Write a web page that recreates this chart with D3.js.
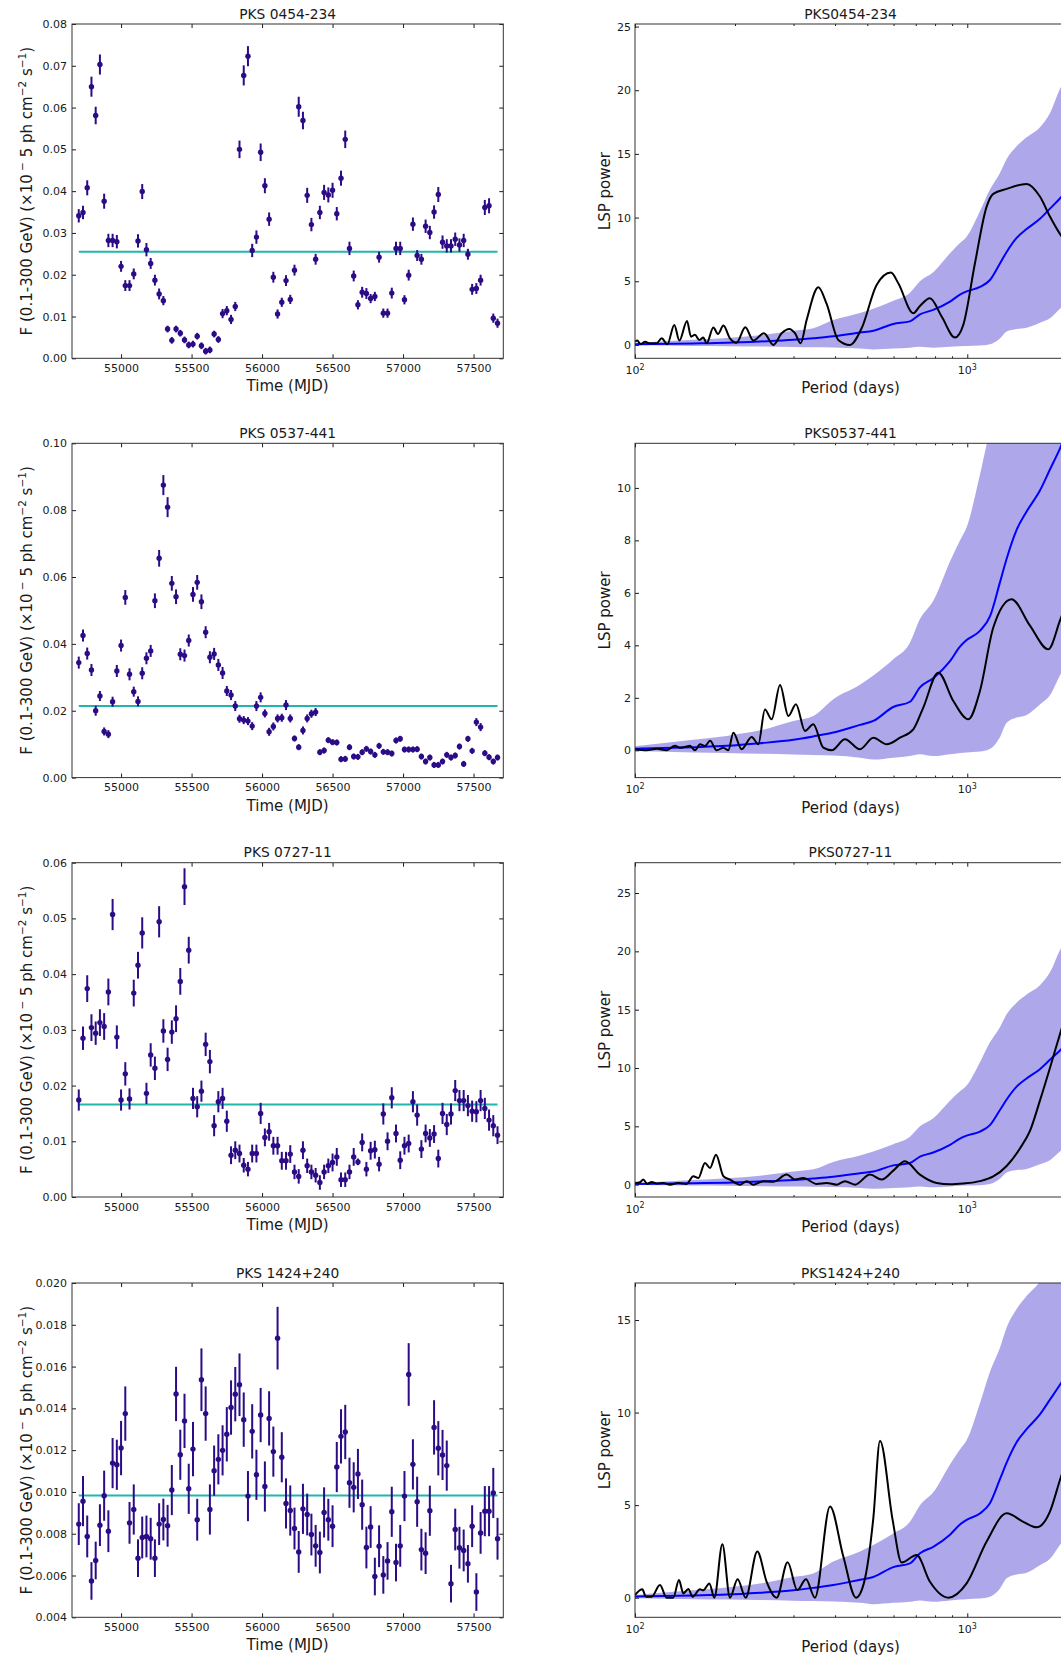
<!DOCTYPE html>
<html><head><meta charset="utf-8">
<script src="https://cdn.jsdelivr.net/npm/d3@7"></script>
<style>body{margin:0;background:#fff}svg text{font-family:"DejaVu Sans",sans-serif}</style>
</head><body><svg id="c" width="1061" height="1659"></svg>
<script>
// ---------------- DATA ----------------
const sourceNames = ["PKS 0454-234", "PKS 0537-441", "PKS 0727-11", "PKS 1424+240"];
const lspNames = ["PKS0454-234", "PKS0537-441", "PKS0727-11", "PKS1424+240"];

const mjd = [54700,54730,54760,54790,54820,54850,54880,54910,54940,54970,
55000,55030,55060,55090,55120,55150,55180,55210,55240,55270,
55300,55330,55360,55390,55420,55450,55480,55510,55540,55570,
55600,55630,55660,55690,55720,55750,55780,55810,55840,55870,
55900,55930,55960,55990,56020,56050,56080,56110,56140,56170,
56200,56230,56260,56290,56320,56350,56380,56410,56440,56470,
56500,56530,56560,56590,56620,56650,56680,56710,56740,56770,
56800,56830,56860,56890,56920,56950,56980,57010,57040,57070,
57100,57130,57160,57190,57220,57250,57280,57310,57340,57370,
57400,57430,57460,57490,57520,57550,57580,57610,57640,57670];

const flux1 = [0.0341,0.0349,0.0408,0.0650,0.0581,0.0703,0.0376,0.0282,0.0282,0.0279,
0.0220,0.0174,0.0174,0.0202,0.0281,0.0399,0.0260,0.0227,0.0187,0.0154,
0.0138,0.0070,0.0043,0.0070,0.0060,0.0044,0.0032,0.0034,0.0053,0.0030,
0.0017,0.0020,0.0058,0.0045,0.0107,0.0114,0.0093,0.0124,0.0500,0.0677,
0.0723,0.0258,0.0290,0.0493,0.0413,0.0333,0.0194,0.0106,0.0134,0.0186,
0.0141,0.0211,0.0602,0.0569,0.0390,0.0320,0.0237,0.0349,0.0397,0.0391,
0.0402,0.0346,0.0431,0.0524,0.0263,0.0197,0.0128,0.0158,0.0155,0.0143,
0.0148,0.0242,0.0108,0.0108,0.0156,0.0263,0.0263,0.0140,0.0199,0.0321,
0.0246,0.0237,0.0316,0.0301,0.0350,0.0392,0.0278,0.0269,0.0269,0.0285,
0.0271,0.0282,0.0249,0.0165,0.0167,0.0187,0.0361,0.0365,0.0096,0.0084];
const err1 = [.0016,.0016,.0018,.0024,.0021,.0024,.0018,.0016,.0016,.0016,
.0013,.0013,.0013,.0013,.0016,.0018,.0016,.0013,.0013,.0013,
.0011,.0008,.0008,.0008,.0008,.0008,.0008,.0008,.0008,.0008,
.0008,.0008,.0008,.0008,.0011,.0011,.0011,.0011,.0021,.0024,
.0024,.0016,.0016,.0021,.0018,.0016,.0013,.0011,.0011,.0013,
.0011,.0013,.0024,.0021,.0018,.0016,.0013,.0016,.0018,.0018,
.0018,.0016,.0018,.0021,.0016,.0013,.0011,.0013,.0013,.0011,
.0011,.0013,.0011,.0011,.0013,.0016,.0016,.0011,.0013,.0016,
.0013,.0013,.0016,.0016,.0016,.0018,.0016,.0016,.0016,.0016,
.0016,.0016,.0013,.0013,.0013,.0013,.0018,.0018,.0011,.0011];

const flux2 = [0.0344,0.0425,0.0371,0.0322,0.0200,0.0244,0.0138,0.0130,0.0227,0.0319,
0.0395,0.0539,0.0309,0.0257,0.0228,0.0312,0.0357,0.0379,0.0529,0.0656,
0.0875,0.0809,0.0581,0.0541,0.0369,0.0365,0.0410,0.0548,0.0584,0.0526,
0.0435,0.0360,0.0370,0.0337,0.0313,0.0259,0.0247,0.0214,0.0176,0.0172,
0.0169,0.0154,0.0214,0.0240,0.0192,0.0137,0.0153,0.0177,0.0179,0.0217,
0.0177,0.0117,0.0091,0.0141,0.0177,0.0191,0.0196,0.0076,0.0081,0.0112,
0.0106,0.0105,0.0055,0.0056,0.0091,0.0063,0.0062,0.0076,0.0086,0.0078,
0.0068,0.0095,0.0077,0.0076,0.0072,0.0111,0.0116,0.0084,0.0084,0.0084,
0.0085,0.0063,0.0048,0.0060,0.0038,0.0038,0.0048,0.0068,0.0060,0.0066,
0.0093,0.0041,0.0116,0.0080,0.0166,0.0151,0.0073,0.0061,0.0048,0.0060];
const err2 = [.0018,.0018,.0018,.0018,.0015,.0015,.0012,.0012,.0015,.0018,
.0018,.0022,.0018,.0015,.0015,.0018,.0018,.0018,.0022,.0025,
.0030,.0030,.0022,.0022,.0018,.0018,.0018,.0022,.0022,.0022,
.0018,.0018,.0018,.0018,.0018,.0015,.0015,.0015,.0012,.0012,
.0012,.0012,.0015,.0015,.0012,.0012,.0012,.0012,.0012,.0015,
.0012,.0009,.0009,.0012,.0012,.0012,.0012,.0009,.0009,.0009,
.0009,.0009,.0009,.0009,.0009,.0009,.0009,.0009,.0009,.0009,
.0009,.0009,.0009,.0009,.0009,.0009,.0009,.0009,.0009,.0009,
.0009,.0009,.0009,.0009,.0009,.0009,.0009,.0009,.0009,.0009,
.0009,.0009,.0009,.0009,.0012,.0012,.0009,.0009,.0009,.0009];

const flux3 = [0.0174,0.0285,0.0374,0.0304,0.0294,0.0313,0.0306,0.0368,0.0507,0.0287,
0.0174,0.0221,0.0176,0.0366,0.0416,0.0474,0.0186,0.0255,0.0231,0.0494,
0.0298,0.0247,0.0296,0.0320,0.0387,0.0557,0.0443,0.0177,0.0162,0.0190,
0.0274,0.0243,0.0128,0.0171,0.0177,0.0136,0.0075,0.0084,0.0078,0.0057,
0.0050,0.0078,0.0078,0.0150,0.0107,0.0117,0.0092,0.0092,0.0065,0.0065,
0.0077,0.0045,0.0037,0.0084,0.0056,0.0045,0.0039,0.0026,0.0045,0.0056,
0.0062,0.0072,0.0031,0.0031,0.0045,0.0072,0.0063,0.0098,0.0050,0.0083,
0.0085,0.0059,0.0149,0.0100,0.0178,0.0114,0.0066,0.0092,0.0096,0.0171,
0.0147,0.0086,0.0114,0.0106,0.0113,0.0069,0.0150,0.0130,0.0149,0.0191,
0.0173,0.0173,0.0164,0.0154,0.0153,0.0173,0.0159,0.0138,0.0128,0.0111];
const err3 = [.0019,.0021,.0024,.0024,.0021,.0024,.0024,.0024,.0028,.0021,
.0019,.0021,.0019,.0024,.0024,.0028,.0019,.0021,.0021,.0028,
.0021,.0021,.0021,.0024,.0024,.0033,.0024,.0019,.0019,.0019,
.0021,.0021,.0019,.0019,.0019,.0019,.0016,.0016,.0016,.0013,
.0013,.0016,.0016,.0019,.0016,.0016,.0016,.0016,.0016,.0016,
.0016,.0013,.0013,.0016,.0013,.0013,.0013,.0013,.0013,.0013,
.0016,.0016,.0013,.0013,.0013,.0016,.0006,.0016,.0013,.0016,
.0016,.0013,.0019,.0016,.0019,.0016,.0016,.0016,.0016,.0019,
.0019,.0016,.0016,.0016,.0016,.0016,.0019,.0019,.0019,.0019,
.0019,.0019,.0019,.0019,.0019,.0019,.0019,.0019,.0019,.0016];

const flux4 = [0.00846,0.00956,0.00787,0.00574,0.00672,0.00841,0.00982,0.00812,0.01138,0.01130,
0.01210,0.01375,0.00852,0.00916,0.00683,0.00782,0.00787,0.00776,0.00683,0.00846,
0.00868,0.00838,0.01009,0.01469,0.01178,0.01340,0.01015,0.01205,0.00867,0.01537,
0.01375,0.00916,0.01102,0.01156,0.01199,0.01276,0.01404,0.01468,0.01513,0.01346,
0.00980,0.01290,0.01082,0.01368,0.01026,0.01352,0.01193,0.01736,0.01166,0.00945,
0.00911,0.00825,0.00713,0.00919,0.00892,0.00796,0.00742,0.00710,0.00902,0.00867,
0.00836,0.01119,0.01266,0.01287,0.01044,0.01022,0.01086,0.00939,0.00734,0.00832,
0.00595,0.00740,0.00603,0.00670,0.00905,0.00662,0.00742,0.00980,0.01562,0.01132,
0.00953,0.00724,0.00707,0.00910,0.01309,0.01209,0.01177,0.01126,0.00561,0.00820,
0.00733,0.00720,0.00656,0.00836,0.00521,0.00804,0.00908,0.00908,0.00995,0.00776];
const err4 = [.0010,.0012,.0010,.0009,.0009,.0010,.0012,.0010,.0012,.0012,
.0013,.0013,.0010,.0012,.0009,.0010,.0010,.0010,.0009,.0010,
.0010,.0010,.0012,.0013,.0012,.0013,.0012,.0013,.0010,.0015,
.0013,.0012,.0012,.0012,.0012,.0013,.0013,.0013,.0015,.0013,
.0012,.0013,.0012,.0013,.0012,.0013,.0012,.0015,.0012,.0012,
.0012,.0010,.0010,.0012,.0010,.0010,.0010,.0010,.0012,.0010,
.0010,.0012,.0013,.0013,.0012,.0012,.0012,.0012,.0010,.0010,
.0009,.0010,.0009,.0009,.0012,.0009,.0010,.0012,.0015,.0012,
.0012,.0010,.0010,.0012,.0013,.0013,.0012,.0012,.0009,.0010,
.0010,.0010,.0009,.0010,.0009,.0010,.0012,.0012,.0012,.0010];

const meanFlux = [0.0255, 0.0214, 0.0166, 0.00983];
const timeDomain = [54652, 57711];
const timeTicks = [55000, 55500, 56000, 56500, 57000, 57500];
const fluxDomains = [[0, 0.08], [0, 0.10], [0, 0.06], [0.004, 0.020]];
const fluxTicks = [
  [0, 0.01, 0.02, 0.03, 0.04, 0.05, 0.06, 0.07, 0.08],
  [0, 0.02, 0.04, 0.06, 0.08, 0.10],
  [0, 0.01, 0.02, 0.03, 0.04, 0.05, 0.06],
  [0.004, 0.006, 0.008, 0.010, 0.012, 0.014, 0.016, 0.018, 0.020]];
const fluxTickFormats = [".2f", ".2f", ".2f", ".3f"];

// simulated-noise band (same for all sources)
const bandPeriod = [100,149.8,188.7,237.8,299.6,344.0,395.2,475.3,521.5,598.8,672.1,720.4,790.0,887.1,950.5,995.4,1091.6,1170.1,1254,1313.6,1407.6,1508.5,1654.4,1773.2,1900.3,2037];
const bandMean = [0.06,0.12,0.17,0.27,0.40,0.53,0.68,0.97,1.12,1.65,1.85,2.40,2.75,3.40,3.95,4.20,4.55,5.10,6.40,7.30,8.40,9.10,9.90,10.70,11.50,12.40];
const bandLow = [-0.03,-0.08,-0.10,-0.13,-0.16,-0.18,-0.20,-0.28,-0.35,-0.28,-0.22,-0.15,-0.22,-0.15,-0.10,-0.08,-0.05,0.05,0.50,1.05,1.25,1.35,1.75,2.10,2.85,3.50];
const bandHigh = [0.15,0.40,0.55,0.76,1.12,1.31,1.95,2.50,2.85,3.47,4.10,5.00,5.70,7.20,8.00,8.50,10.50,12.20,13.50,14.60,15.60,16.30,17.10,18.20,20.10,21.50];

const lspPeriod1 = [100,101.6,104.0,107.2,110.9,116.2,120.3,125.1,131.3,136.0,143.4,147.4,151.5,156.2,160.6,164.3,172.1,177.7,184.5,193.1,202.2,214.8,227.0,244.4,260.8,276.3,291.4,303.0,315.1,328.5,356.2,377.4,409.1,443.6,480.8,533.5,589.2,620.0,687.9,720.4,772.2,837.3,918.3,972.7,1054.6,1143.5,1197.4,1313.6,1508.5,1654.4,1773.2,1900.3,1990.6];
const lspPower1 = [0.26,0.34,0.05,0.24,0.13,0.13,0.52,0.05,1.57,0.34,1.88,0.65,0.79,0.39,0.58,0.13,1.36,0.86,1.52,0.52,0.18,1.39,0.34,0.92,0.0,0.92,1.26,0.92,0.13,1.96,4.53,3.22,0.39,0.0,1.31,4.71,5.68,4.84,2.49,3.06,3.66,2.23,0.58,1.57,6.41,10.86,11.86,12.25,12.64,11.65,10.08,8.72,8.0];

const lspPeriod2 = [100,108.4,116.2,124.5,132.0,136.6,141.4,146.4,151.5,156.9,162.4,168.2,176.1,184.5,190.9,197.7,209.4,224.4,235.0,246.1,257.8,273.2,289.4,305.1,324.7,344.0,368.8,390.8,428.4,475.3,521.5,571.8,627.2,687.9,737.2,817.8,907.9,1007,1091.6,1197.4,1359.5,1543.9,1752.8,1900.3,2037];
const lspPower2 = [0.04,0.0,0.06,0.0,0.17,0.10,0.13,0.17,0.0,0.23,0.16,0.36,0.0,0.10,0.0,0.67,0.04,0.51,0.23,1.56,1.18,2.49,1.31,1.76,0.74,0.99,0.10,0.0,0.42,0.04,0.48,0.23,0.48,0.80,1.63,2.96,1.88,1.18,2.26,4.68,5.76,4.75,3.85,4.94,6.0];

const lspPeriod3 = [100,103.5,105.9,108.9,112.2,116.2,121.7,127.4,135.0,143.0,149.8,155.1,162.4,168.2,175.3,184.5,193.1,207.0,216.8,227.0,243.3,260.8,286.1,303.0,321.0,352.2,377.4,404.4,428.4,459.2,509.6,552.4,598.8,649.3,720.4,808.7,887.1,972.7,1091.6,1197.4,1313.6,1440.4,1543.9,1654.4,1773.2,1900.3,1990.6];
const lspPower3 = [0.14,0.20,0.43,0.06,0.23,0.10,0.14,0.0,0.14,0.06,0.72,0.57,1.86,1.43,2.57,0.72,0.43,0.0,0.29,0.0,0.30,0.25,0.86,0.43,0.57,0.06,0.14,0.0,0.29,0.0,0.86,0.43,1.20,2.00,0.86,0.14,0.03,0.10,0.30,0.70,1.60,3.10,4.60,7.20,10.0,12.9,14.8];

const lspPeriod4 = [100,105.2,107.9,112.2,118.9,124.5,130.4,135.6,139.8,144.7,149.1,156.9,160.6,167.4,173.3,183.2,193.1,203.6,215.3,233.4,249.0,266.9,288.0,307.9,327.0,348.0,386.3,423.6,462.4,488.7,521.5,546.2,596.1,634.5,703.9,772.2,876.7,995.4,1143.5,1313.6,1474,1617,1773.2,1900.3,2037];
const lspPower4 = [0.14,0.45,0.05,0.05,0.68,0.0,0.0,0.95,0.23,0.47,0.05,0.45,0.40,0.77,0.0,2.88,0.0,0.99,0.0,2.49,0.86,0.0,1.91,0.41,0.99,0.0,4.92,2.22,0.0,0.80,4.30,8.48,4.20,1.90,2.30,0.86,0.0,0.77,3.03,4.56,4.10,3.80,4.65,6.36,8.0];

const periodDomain = [100, 1982];
const periodMajor = [100, 1000];
const periodMinor = [200, 300, 400, 500, 600, 700, 800, 900];
const lspDomains = [[-1.05, 25.2], [-1.04, 11.7], [-1.06, 27.6], [-1.06, 17.0]];
const lspTicks = [[0,5,10,15,20,25], [0,2,4,6,8,10], [0,5,10,15,20,25], [0,5,10,15]];

// ---------------- LAYOUT / STYLE ----------------
const fluxes = [flux1, flux2, flux3, flux4];
const errs = [err1, err2, err3, err4];
const lspP = [lspPeriod1, lspPeriod2, lspPeriod3, lspPeriod4];
const lspV = [lspPower1, lspPower2, lspPower3, lspPower4];

const svg = d3.select("#c");
const tops = [24, 443.3, 862.7, 1283];
const PH = 334.3;
const LX = [72, 503.3], RX = [635, 1066];
const INK = "#1a1a1a", SPINE = "#333";
const PT = "#2b0b86", MEANC = "#20b5ad", BANDC = "#aea8ea";

function styleAxis(s) {
  s.attr("font-size", 11).attr("font-family", "DejaVu Sans").attr("color", INK);
  s.select(".domain").remove();
}
function frame(g, x0, x1, y0, y1) {
  g.append("rect").attr("x", x0).attr("y", y0).attr("width", x1 - x0).attr("height", y1 - y0)
    .attr("fill", "none").attr("stroke", SPINE).attr("stroke-width", 1);
}

function lightCurve(i) {
  const top = tops[i], bot = top + PH;
  const g = svg.append("g");
  const x = d3.scaleLinear().domain(timeDomain).range(LX);
  const y = d3.scaleLinear().domain(fluxDomains[i]).range([bot, top]);
  const data = mjd.map((t, j) => ({t, f: fluxes[i][j], e: errs[i][j]}));

  g.append("line").attr("x1", x(mjd[0])).attr("x2", x(mjd[mjd.length - 1]))
    .attr("y1", y(meanFlux[i])).attr("y2", y(meanFlux[i]))
    .attr("stroke", MEANC).attr("stroke-width", 2);
  g.append("g").selectAll("line").data(data).join("line")
    .attr("x1", d => x(d.t)).attr("x2", d => x(d.t))
    .attr("y1", d => y(d.f - d.e)).attr("y2", d => y(d.f + d.e))
    .attr("stroke", PT).attr("stroke-width", 2);
  g.append("g").selectAll("circle").data(data).join("circle")
    .attr("cx", d => x(d.t)).attr("cy", d => y(d.f)).attr("r", 2.7).attr("fill", PT);

  g.append("g").attr("transform", `translate(0,${bot})`)
    .call(d3.axisBottom(x).tickValues(timeTicks).tickSize(-4).tickPadding(6).tickFormat(d3.format("d"))).call(styleAxis);
  g.append("g").attr("transform", `translate(0,${top})`)
    .call(d3.axisTop(x).tickValues(timeTicks).tickSize(-4).tickFormat("")).call(styleAxis);
  g.append("g").attr("transform", `translate(${LX[0]},0)`)
    .call(d3.axisLeft(y).tickValues(fluxTicks[i]).tickSize(-4).tickPadding(5).tickFormat(d3.format(fluxTickFormats[i]))).call(styleAxis);
  g.append("g").attr("transform", `translate(${LX[1]},0)`)
    .call(d3.axisRight(y).tickValues(fluxTicks[i]).tickSize(-4).tickFormat("")).call(styleAxis);
  frame(g, LX[0], LX[1], top, bot);

  g.append("text").attr("x", (LX[0] + LX[1]) / 2).attr("y", top - 5.5).attr("text-anchor", "middle")
    .attr("font-size", 13.8).attr("fill", INK).text(sourceNames[i]);
  g.append("text").attr("x", (LX[0] + LX[1]) / 2).attr("y", bot + 33).attr("text-anchor", "middle")
    .attr("font-size", 15).attr("fill", INK).text("Time (MJD)");
  const cy = (top + bot) / 2;
  const t = g.append("text").attr("transform", `translate(31.5,${cy}) rotate(-90)`)
    .attr("text-anchor", "middle").attr("font-size", 15).attr("fill", INK);
  t.append("tspan").text("F (0.1-300 GeV) (×10");
  t.append("tspan").attr("dy", -6).attr("font-size", 10.5).text(" −");
  t.append("tspan").attr("dy", 6).text(" 5 ph cm");
  t.append("tspan").attr("dy", -6).attr("font-size", 10.5).text("−2");
  t.append("tspan").attr("dy", 6).text(" s");
  t.append("tspan").attr("dy", -6).attr("font-size", 10.5).text("−1");
  t.append("tspan").attr("dy", 6).text(")");
}

function lspPanel(i) {
  const top = tops[i], bot = top + PH;
  const g = svg.append("g");
  const x = d3.scaleLog().domain(periodDomain).range(RX);
  const y = d3.scaleLinear().domain(lspDomains[i]).range([bot, top]);
  const cid = "clip" + i;
  g.append("clipPath").attr("id", cid).append("rect")
    .attr("x", RX[0]).attr("y", top).attr("width", RX[1] - RX[0]).attr("height", PH);
  const pg = g.append("g").attr("clip-path", `url(#${cid})`);

  const band = bandPeriod.map((p, j) => ({p, lo: bandLow[j], hi: bandHigh[j], m: bandMean[j]}));
  pg.append("path").datum(band)
    .attr("d", d3.area().x(d => x(d.p)).y0(d => y(d.lo)).y1(d => y(d.hi)).curve(d3.curveMonotoneX))
    .attr("fill", BANDC).attr("stroke", "none");
  pg.append("path").datum(band)
    .attr("d", d3.line().x(d => x(d.p)).y(d => y(d.m)).curve(d3.curveMonotoneX))
    .attr("fill", "none").attr("stroke", "#0000ff").attr("stroke-width", 2);
  const curve = lspP[i].map((p, j) => ({p, v: lspV[i][j]}));
  pg.append("path").datum(curve)
    .attr("d", d3.line().x(d => x(d.p)).y(d => y(d.v)).curve(d3.curveMonotoneX))
    .attr("fill", "none").attr("stroke", "#000").attr("stroke-width", 2).attr("stroke-linejoin", "round");

  g.append("g").attr("transform", `translate(0,${bot})`)
    .call(d3.axisBottom(x).tickValues(periodMajor).tickSize(-4).tickFormat("")).call(styleAxis);
  g.append("g").attr("transform", `translate(0,${bot})`)
    .call(d3.axisBottom(x).tickValues(periodMinor).tickSize(-2).tickFormat("")).call(styleAxis);
  g.append("g").attr("transform", `translate(0,${top})`)
    .call(d3.axisTop(x).tickValues(periodMajor).tickSize(-4).tickFormat("")).call(styleAxis);
  g.append("g").attr("transform", `translate(0,${top})`)
    .call(d3.axisTop(x).tickValues(periodMinor).tickSize(-2).tickFormat("")).call(styleAxis);
  g.append("g").attr("transform", `translate(${RX[0]},0)`)
    .call(d3.axisLeft(y).tickValues(lspTicks[i]).tickSize(-4).tickPadding(4).tickFormat(d3.format("d"))).call(styleAxis);
  frame(g, RX[0], RX[1], top, bot);

  periodMajor.forEach(v => {
    const t = g.append("text").attr("x", x(v)).attr("y", bot + 15.7).attr("text-anchor", "middle")
      .attr("font-size", 11).attr("fill", INK);
    t.append("tspan").text("10");
    t.append("tspan").attr("dy", -4.5).attr("font-size", 8).text(String(Math.round(Math.log10(v))));
  });

  g.append("text").attr("x", (RX[0] + RX[1]) / 2).attr("y", top - 5.5).attr("text-anchor", "middle")
    .attr("font-size", 13.8).attr("fill", INK).text(lspNames[i]);
  g.append("text").attr("x", (RX[0] + RX[1]) / 2).attr("y", bot + 35).attr("text-anchor", "middle")
    .attr("font-size", 15).attr("fill", INK).text("Period (days)");
  g.append("text").attr("transform", `translate(609.5,${(top + bot) / 2}) rotate(-90)`)
    .attr("text-anchor", "middle").attr("font-size", 15).attr("fill", INK).text("LSP power");
}

for (let i = 0; i < 4; i++) { lightCurve(i); lspPanel(i); }
</script>
</body></html>
